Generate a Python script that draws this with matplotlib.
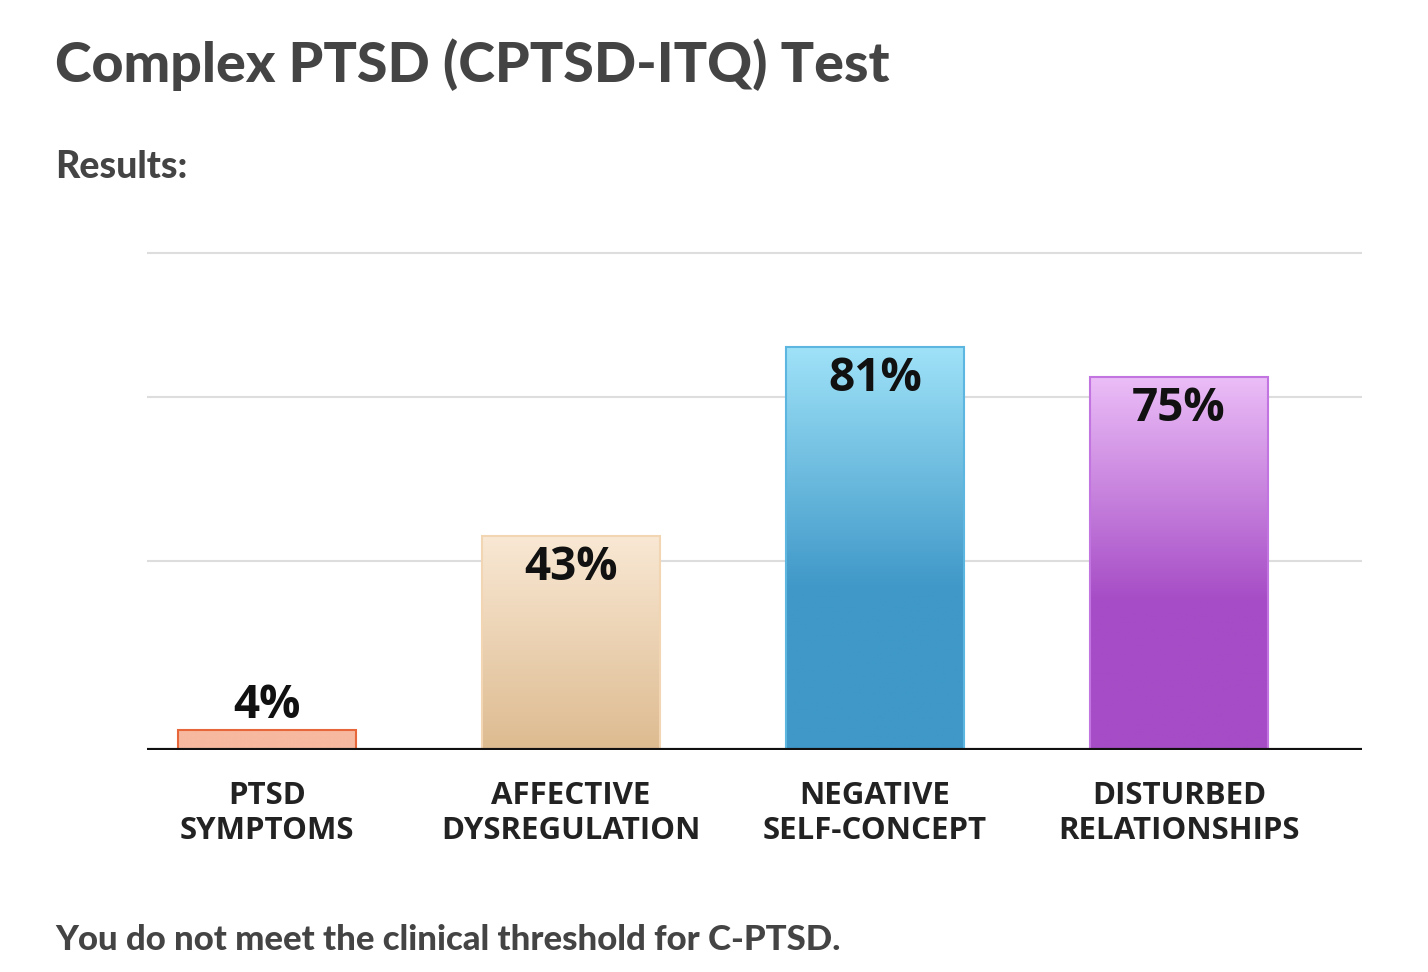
import numpy as np
import matplotlib
matplotlib.use("Agg")
import matplotlib.pyplot as plt
from matplotlib.colors import LinearSegmentedColormap
from matplotlib.patches import Rectangle

categories = ["PTSD\nSYMPTOMS", "AFFECTIVE\nDYSREGULATION", "NEGATIVE\nSELF-CONCEPT", "DISTURBED\nRELATIONSHIPS"]
values = [4, 43, 81, 75]
grid_levels = [38, 71, 100]
top_colors = ["#f7b9a0", "#f9e8d4", "#9fe2f8", "#ebbdf7"]
bottom_colors = ["#f7b9a0", "#ddbb90", "#3f98c8", "#a64cc6"]
edge_colors = ["#e8673a", "#f2d6b4", "#5cb6e0", "#c274e0"]

fig = plt.figure(figsize=(14.28, 9.72), dpi=100)
ax = fig.add_axes([147/1428, 1-750/972, (1362-147)/1428, (750-250)/972])
ax.set_xlim(-0.395, 3.602)
ax.set_ylim(0, 100.6)
for g in grid_levels:
    ax.axhline(g, color="#dddddd", lw=1.5, zorder=0)
width = 0.585
for i, (v, tc, bc, ec) in enumerate(zip(values, top_colors, bottom_colors, edge_colors)):
    x0 = i - width/2
    cmap = LinearSegmentedColormap.from_list("g", [(0, bc), (0.4, bc), (1, tc)]) if i >= 2 else \
        LinearSegmentedColormap.from_list("g", [bc, tc])
    grad = np.linspace(0, 1, 256).reshape(-1, 1)
    im = ax.imshow(grad, extent=[x0, x0+width, 0, v], origin="lower", aspect="auto", cmap=cmap, zorder=2)
    rect = Rectangle((x0, 0), width, v, facecolor="none", edgecolor=ec, lw=1.5, zorder=3)
    ax.add_patch(rect)
    im.set_clip_path(rect)
    if v < 10:
        ax.text(i, v + 0.3, f"{v}%", ha="center", va="bottom", fontsize=33, fontweight="bold",
                family="Open Sans", color="#111111", zorder=4)
    else:
        ax.text(i, v - 1.6, f"{v}%", ha="center", va="top", fontsize=33, fontweight="bold",
                family="Open Sans", color="#111111", zorder=4)
ax.axhline(0, color="#111111", lw=3, zorder=5)
ax.set_xticks(range(len(categories)))
ax.set_xticklabels(categories, fontsize=22.5, fontweight="bold", family="Open Sans", color="#222222", linespacing=1.25)
ax.tick_params(axis="x", length=0, pad=22)
ax.set_yticks([])
for s in ax.spines.values():
    s.set_visible(False)

fig.text(55/1428, 1-65/972, "Complex PTSD (CPTSD-ITQ) Test", fontsize=40, fontweight="black",
         family="Lato", color="#444444", va="center")
fig.text(55/1428, 1-167/972, "Results:", fontsize=27, fontweight="black", family="Lato",
         color="#444444", va="center")
fig.text(55/1428, 1-940/972, "You do not meet the clinical threshold for C-PTSD.", fontsize=25,
         fontweight="black", family="Lato", color="#444444", va="center")
fig.savefig("out.png", dpi=100)
